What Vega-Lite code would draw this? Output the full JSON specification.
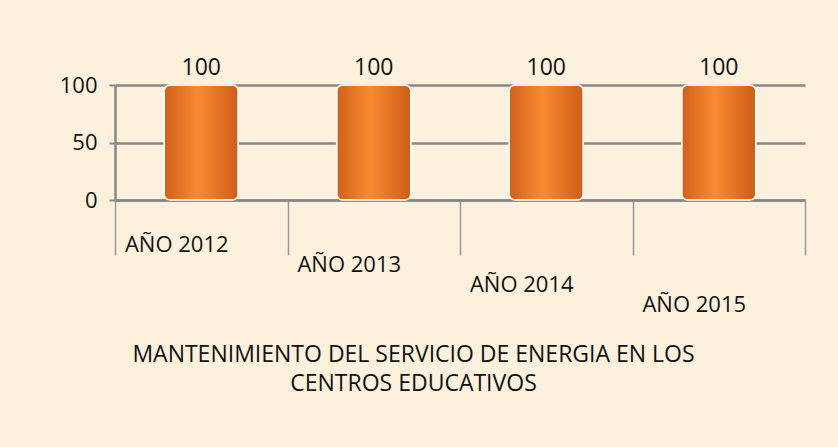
{
  "$schema": "https://vega.github.io/schema/vega-lite/v6.json",
  "autosize": {"type": "none"},
  "width": 690,
  "height": 115,
  "padding": {"left": 115, "top": 85, "right": 33, "bottom": 247},
  "background": "#fbf1dc",
  "config": {
    "view": {"stroke": null},
    "font": "Open Sans"
  },
  "data": {
    "values": [
      {"anio": "AÑO 2012", "valor": 100},
      {"anio": "AÑO 2013", "valor": 100},
      {"anio": "AÑO 2014", "valor": 100},
      {"anio": "AÑO 2015", "valor": 100}
    ]
  },
  "encoding": {
    "x": {
      "field": "anio", "type": "nominal", "sort": null,
      "scale": {"paddingInner": 0, "paddingOuter": 0},
      "axis": {
        "title": ["MANTENIMIENTO DEL SERVICIO DE ENERGIA EN LOS", "CENTROS EDUCATIVOS"],
        "titleFontSize": 23, "titleFontWeight": "normal", "titleColor": "#111",
        "titleX": 298, "titleY": 143, "titleAlign": "center", "titleLineHeight": 29,
        "labelAngle": 0, "labelFontSize": 22, "labelColor": "#111",
        "labelPadding": {"expr": "-21 + 60*datum.index"},
        "labelOffset": -25,
        "tickBand": "extent", "tickSize": 55, "tickColor": "#999", "tickWidth": 1.5,
        "domainColor": "#888", "domainWidth": 2.5
      }
    },
    "y": {
      "field": "valor", "type": "quantitative",
      "scale": {"domain": [0, 100]},
      "axis": {
        "title": null, "values": [0, 50, 100], "labelFontSize": 22, "labelColor": "#111",
        "labelPadding": 12, "tickSize": 6, "tickColor": "#888", "tickWidth": 2,
        "gridColor": "#888", "gridWidth": 2.5, "domainColor": "#888", "domainWidth": 2.5
      }
    }
  },
  "layer": [
    {
      "mark": {
        "type": "bar",
        "width": {"band": 0.43},
        "cornerRadius": 6,
        "stroke": "white", "strokeWidth": 1.5,
        "color": {
          "gradient": "linear", "x1": 0, "x2": 1, "y1": 0, "y2": 0,
          "stops": [
            {"offset": 0, "color": "#d2601a"},
            {"offset": 0.45, "color": "#f88b32"},
            {"offset": 1, "color": "#cf5d16"}
          ]
        }
      }
    },
    {
      "mark": {"type": "text", "dy": -17, "fontSize": 23, "color": "#111"},
      "encoding": {"text": {"field": "valor", "type": "quantitative"}}
    }
  ]
}
